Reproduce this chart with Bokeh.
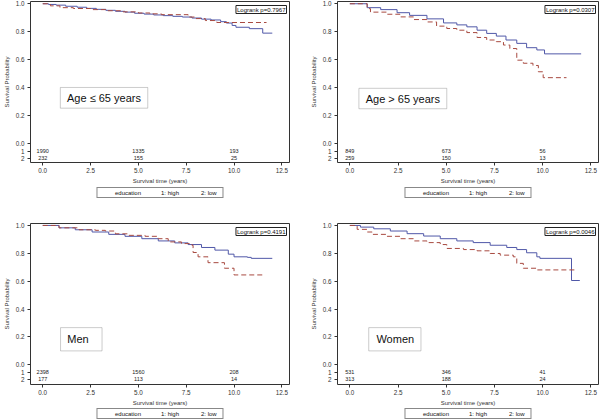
from bokeh.plotting import figure
from bokeh.layouts import column, row
from bokeh.models import (Legend, LegendItem, Label, BoxAnnotation, FixedTicker,
                          Range1d, NumeralTickFormatter, ColumnDataSource)
from bokeh.embed import file_html
from bokeh.resources import INLINE
from bokeh.core.properties import value

# ---------------- data ----------------
X_TICKS = [0.0, 2.5, 5.0, 7.5, 10.0, 12.5]
Y_TICKS = [0.0, 0.2, 0.4, 0.6, 0.8, 1.0]
RISK_TIMES = [0.0, 5.0, 10.0]
RISK_ROWS = ["1", "2"]
GROUPS = ["1: high", "2: low"]
LEGEND_TITLE = "education"

# Panel 1: Age <= 65 years
p1_hi_t = [0, 0.3, 0.7, 1.2, 1.8, 2.3, 2.8, 3.3, 3.8, 4.3, 4.8, 5.3, 5.8, 6.3, 6.8, 7.3,
           7.8, 8.3, 8.8, 9.3, 9.6, 9.9, 10.1, 10.8, 11.5, 12.0]
p1_hi_s = [1.0, 0.995, 0.990, 0.982, 0.975, 0.967, 0.960, 0.953, 0.946, 0.940, 0.932, 0.926,
           0.920, 0.915, 0.910, 0.905, 0.898, 0.890, 0.884, 0.872, 0.862, 0.845, 0.832, 0.822,
           0.790, 0.790]
p1_lo_t = [0, 0.4, 0.9, 1.6, 2.5, 3.3, 4.2, 5.0, 5.6, 6.2, 7.6, 8.0, 8.5, 9.1, 11.7]
p1_lo_s = [1.0, 0.985, 0.972, 0.966, 0.958, 0.950, 0.942, 0.934, 0.928, 0.922, 0.905, 0.894,
           0.880, 0.866, 0.866]
p1_risk_hi = ["1990", "1335", "193"]
p1_risk_lo = ["232", "155", "25"]
p1_p = "Logrank p=0.7967"
p1_label = "Age \u2264 65 years"

# Panel 2: Age > 65 years
p2_hi_t = [0, 0.9, 1.6, 2.45, 3.1, 4.0, 4.86, 5.55, 6.07, 6.6, 7.1, 7.6, 8.1, 8.66, 9.17,
           9.7, 10.1, 12.0]
p2_hi_s = [1.0, 0.972, 0.958, 0.936, 0.917, 0.892, 0.863, 0.849, 0.835, 0.811, 0.788, 0.769,
           0.741, 0.717, 0.686, 0.670, 0.642, 0.642]
p2_lo_t = [0, 0.9, 1.07, 1.93, 2.6, 3.3, 4.0, 4.5, 5.03, 5.55, 6.07, 6.6, 7.1, 7.6, 7.97,
           8.3, 8.66, 9.0, 9.5, 9.78, 10.03, 11.24]
p2_lo_s = [1.0, 0.965, 0.940, 0.925, 0.906, 0.887, 0.870, 0.840, 0.823, 0.811, 0.794, 0.759,
           0.741, 0.729, 0.705, 0.680, 0.597, 0.575, 0.559, 0.514, 0.472, 0.472]
p2_risk_hi = ["849", "673", "56"]
p2_risk_lo = ["259", "150", "13"]
p2_p = "Logrank p=0.0307"
p2_label = "Age > 65 years"

# Panel 3: Men
p3_hi_t = [0, 0.85, 1.7, 2.58, 3.45, 4.3, 5.18, 6.04, 6.9, 7.6, 8.3, 9.0, 9.7, 10.0, 10.7,
           10.9, 12.0]
p3_hi_s = [1.0, 0.983, 0.969, 0.953, 0.936, 0.922, 0.905, 0.889, 0.875, 0.863, 0.842, 0.823,
           0.794, 0.775, 0.771, 0.764, 0.764]
p3_lo_t = [0, 0.85, 1.9, 2.75, 3.27, 3.8, 4.5, 5.35, 6.04, 6.56, 7.25, 7.8, 7.86, 8.12, 8.64,
           9.5, 10.0, 11.6]
p3_lo_s = [1.0, 0.983, 0.969, 0.965, 0.960, 0.940, 0.929, 0.922, 0.905, 0.882, 0.870, 0.858,
           0.806, 0.775, 0.733, 0.693, 0.645, 0.645]
p3_risk_hi = ["2398", "1560", "208"]
p3_risk_lo = ["177", "113", "14"]
p3_p = "Logrank p=0.4191"
p3_label = "Men"

# Panel 4: Women
p4_hi_t = [0, 0.55, 1.24, 2.1, 2.97, 3.83, 4.69, 5.55, 6.4, 7.28, 8.14, 8.66, 9.17, 9.7,
           9.86, 11.5, 11.93]
p4_hi_s = [1.0, 0.988, 0.976, 0.960, 0.941, 0.924, 0.905, 0.889, 0.877, 0.858, 0.842, 0.827,
           0.804, 0.775, 0.764, 0.605, 0.605]
p4_lo_t = [0, 0.38, 0.9, 1.16, 1.93, 2.62, 3.3, 4.0, 4.69, 5.03, 5.9, 6.6, 7.28, 7.8, 8.48,
           8.66, 9.0, 9.7, 11.67]
p4_lo_s = [1.0, 0.972, 0.953, 0.936, 0.922, 0.905, 0.889, 0.877, 0.863, 0.835, 0.827, 0.818,
           0.799, 0.787, 0.775, 0.728, 0.693, 0.681, 0.681]
p4_risk_hi = ["531", "346", "41"]
p4_risk_lo = ["313", "188", "24"]
p4_p = "Logrank p=0.0046"
p4_label = "Women"

# ---------------- style ----------------
FONT = "Liberation Sans"
BLUE = "#5058a8"
RED = "#a84a40"
AXC = "#333333"
SMALL = "6px"
TICKF = "6.3px"
X0, X1 = -0.64, 12.9
ROW1_Y, ROW2_Y = -0.052, -0.102


def style_axes(p):
    for ax in (p.xaxis[0], p.yaxis[0]):
        ax.axis_line_color = None
        ax.major_tick_line_color = AXC
        ax.major_tick_out = 3
        ax.major_tick_in = 0
        ax.minor_tick_line_color = None
        ax.major_label_text_font = FONT
        ax.major_label_text_font_size = TICKF
        ax.major_label_text_color = AXC
        ax.axis_label_text_font = FONT
        ax.axis_label_text_font_size = SMALL
        ax.axis_label_text_font_style = "normal"
        ax.axis_label_text_color = AXC
    p.xaxis.major_label_standoff = 2
    p.yaxis.major_label_standoff = 3
    p.xaxis.ticker = FixedTicker(ticks=X_TICKS)
    p.yaxis.ticker = FixedTicker(ticks=[ROW2_Y, ROW1_Y] + Y_TICKS)
    p.xaxis.formatter = NumeralTickFormatter(format="0.0")
    p.yaxis.formatter = NumeralTickFormatter(format="0.0")
    p.yaxis.major_label_overrides = {ROW1_Y: RISK_ROWS[0], ROW2_Y: RISK_ROWS[1]}
    p.xaxis.axis_label = "Survival time (years)"
    p.yaxis.axis_label = "Survival Probability"
    p.xaxis.axis_label_standoff = 2
    p.yaxis.axis_label_standoff = 3


def panel(hi_t, hi_s, lo_t, lo_s, risk_hi, risk_lo, ptext, glabel, box, txt, align,
          yr, bl, br, bt, h, lh, ltop):
    p = figure(width=300, height=h, x_range=Range1d(X0, X1), y_range=Range1d(*yr),
               output_backend="svg", toolbar_location=None,
               min_border_left=bl, min_border_right=br, min_border_top=bt,
               min_border_bottom=22)
    p.background_fill_color = "white"
    p.border_fill_color = "white"
    p.outline_line_color = AXC
    p.outline_line_width = 1
    p.grid.visible = False
    style_axes(p)

    p.step(hi_t, hi_s, mode="after", line_color=BLUE, line_width=1)
    p.step(lo_t, lo_s, mode="after", line_color=RED, line_width=1, line_dash="5 3")

    # numbers at risk
    src = ColumnDataSource(dict(x=RISK_TIMES + RISK_TIMES,
                                y=[ROW1_Y] * 3 + [ROW2_Y] * 3,
                                t=risk_hi + risk_lo))
    p.text(x="x", y="y", text="t", source=src, text_font=value(FONT),
           text_font_size=value("5.5px"), text_align="center", text_baseline="middle",
           text_color="#222222")

    # logrank box
    lk = Label(x=X1, y=yr[1], x_offset=-3, y_offset=-4, text=ptext, text_align="right",
               text_baseline="top", text_font=FONT, text_font_size=SMALL,
               text_color="#111111", background_fill_color="white",
               border_line_color="#222222", border_line_width=1)
    if "padding" in Label.properties():
        lk.padding = 1
    p.add_layout(lk)

    # group label box
    p.add_layout(BoxAnnotation(left=box[0], right=box[1], bottom=box[2], top=box[3],
                               fill_color="white", fill_alpha=1, line_color="#555555",
                               line_width=1))
    p.add_layout(Label(x=txt[0], y=txt[1], text=glabel, text_align=align,
                       text_baseline="middle", text_font=FONT, text_font_size="11px",
                       text_color="#111111"))

    # legend strip under the axis
    lf = figure(width=300, height=lh, x_range=Range1d(0, 1), y_range=Range1d(0, 1),
                output_backend="svg", toolbar_location=None,
                x_axis_location=None, y_axis_location=None,
                min_border_left=bl, min_border_right=br, min_border_top=ltop,
                min_border_bottom=0)
    lf.outline_line_color = None
    lf.background_fill_color = "white"
    lf.border_fill_color = "white"
    lf.xgrid.visible = False
    lf.ygrid.visible = False
    d0 = lf.line(x=[], y=[], line_alpha=0)
    d1 = lf.line(x=[], y=[], line_color=BLUE, line_width=1)
    d2 = lf.line(x=[], y=[], line_color=RED, line_width=1, line_dash="5 3")
    items = [LegendItem(label=LEGEND_TITLE, renderers=[d0]),
             LegendItem(label=GROUPS[0], renderers=[d1]),
             LegendItem(label=GROUPS[1], renderers=[d2])]
    lg = Legend(items=items, orientation="horizontal", location="top_center",
                label_text_font=FONT, label_text_font_size=SMALL,
                label_text_color="#111111", label_height=7, glyph_height=7,
                glyph_width=16, label_standoff=1, spacing=3, padding=1, margin=0,
                border_line_color="#111111", border_line_width=1,
                background_fill_color="white", background_fill_alpha=1)
    lf.add_layout(lg)
    return column(p, lf)


TOP_Y = (-0.134, 1.016)
BOT_Y = (-0.141, 1.014)

c1 = panel(p1_hi_t, p1_hi_s, p1_lo_t, p1_lo_s, p1_risk_hi, p1_risk_lo, p1_p, p1_label,
           (0.92, 5.49, 0.254, 0.402), (3.2, 0.328), "center", TOP_Y, 28, 11, 1, 186, 24, 1)
c2 = panel(p2_hi_t, p2_hi_s, p2_lo_t, p2_lo_s, p2_risk_hi, p2_risk_lo, p2_p, p2_label,
           (0.47, 5.03, 0.250, 0.396), (2.75, 0.323), "center", TOP_Y, 37, 2, 1, 186, 24, 1)
c3 = panel(p3_hi_t, p3_hi_s, p3_lo_t, p3_lo_s, p3_risk_hi, p3_risk_lo, p3_p, p3_label,
           (0.93, 3.10, 0.100, 0.267), (1.28, 0.184), "left", BOT_Y, 28, 11, 13, 198, 11, 0)
c4 = panel(p4_hi_t, p4_hi_s, p4_lo_t, p4_lo_s, p4_risk_hi, p4_risk_lo, p4_p, p4_label,
           (0.98, 3.69, 0.100, 0.267), (1.38, 0.184), "left", BOT_Y, 37, 2, 13, 198, 11, 0)

layout = column(row(c1, c2), row(c3, c4))
open("out.html", "w").write(file_html(layout, INLINE))
